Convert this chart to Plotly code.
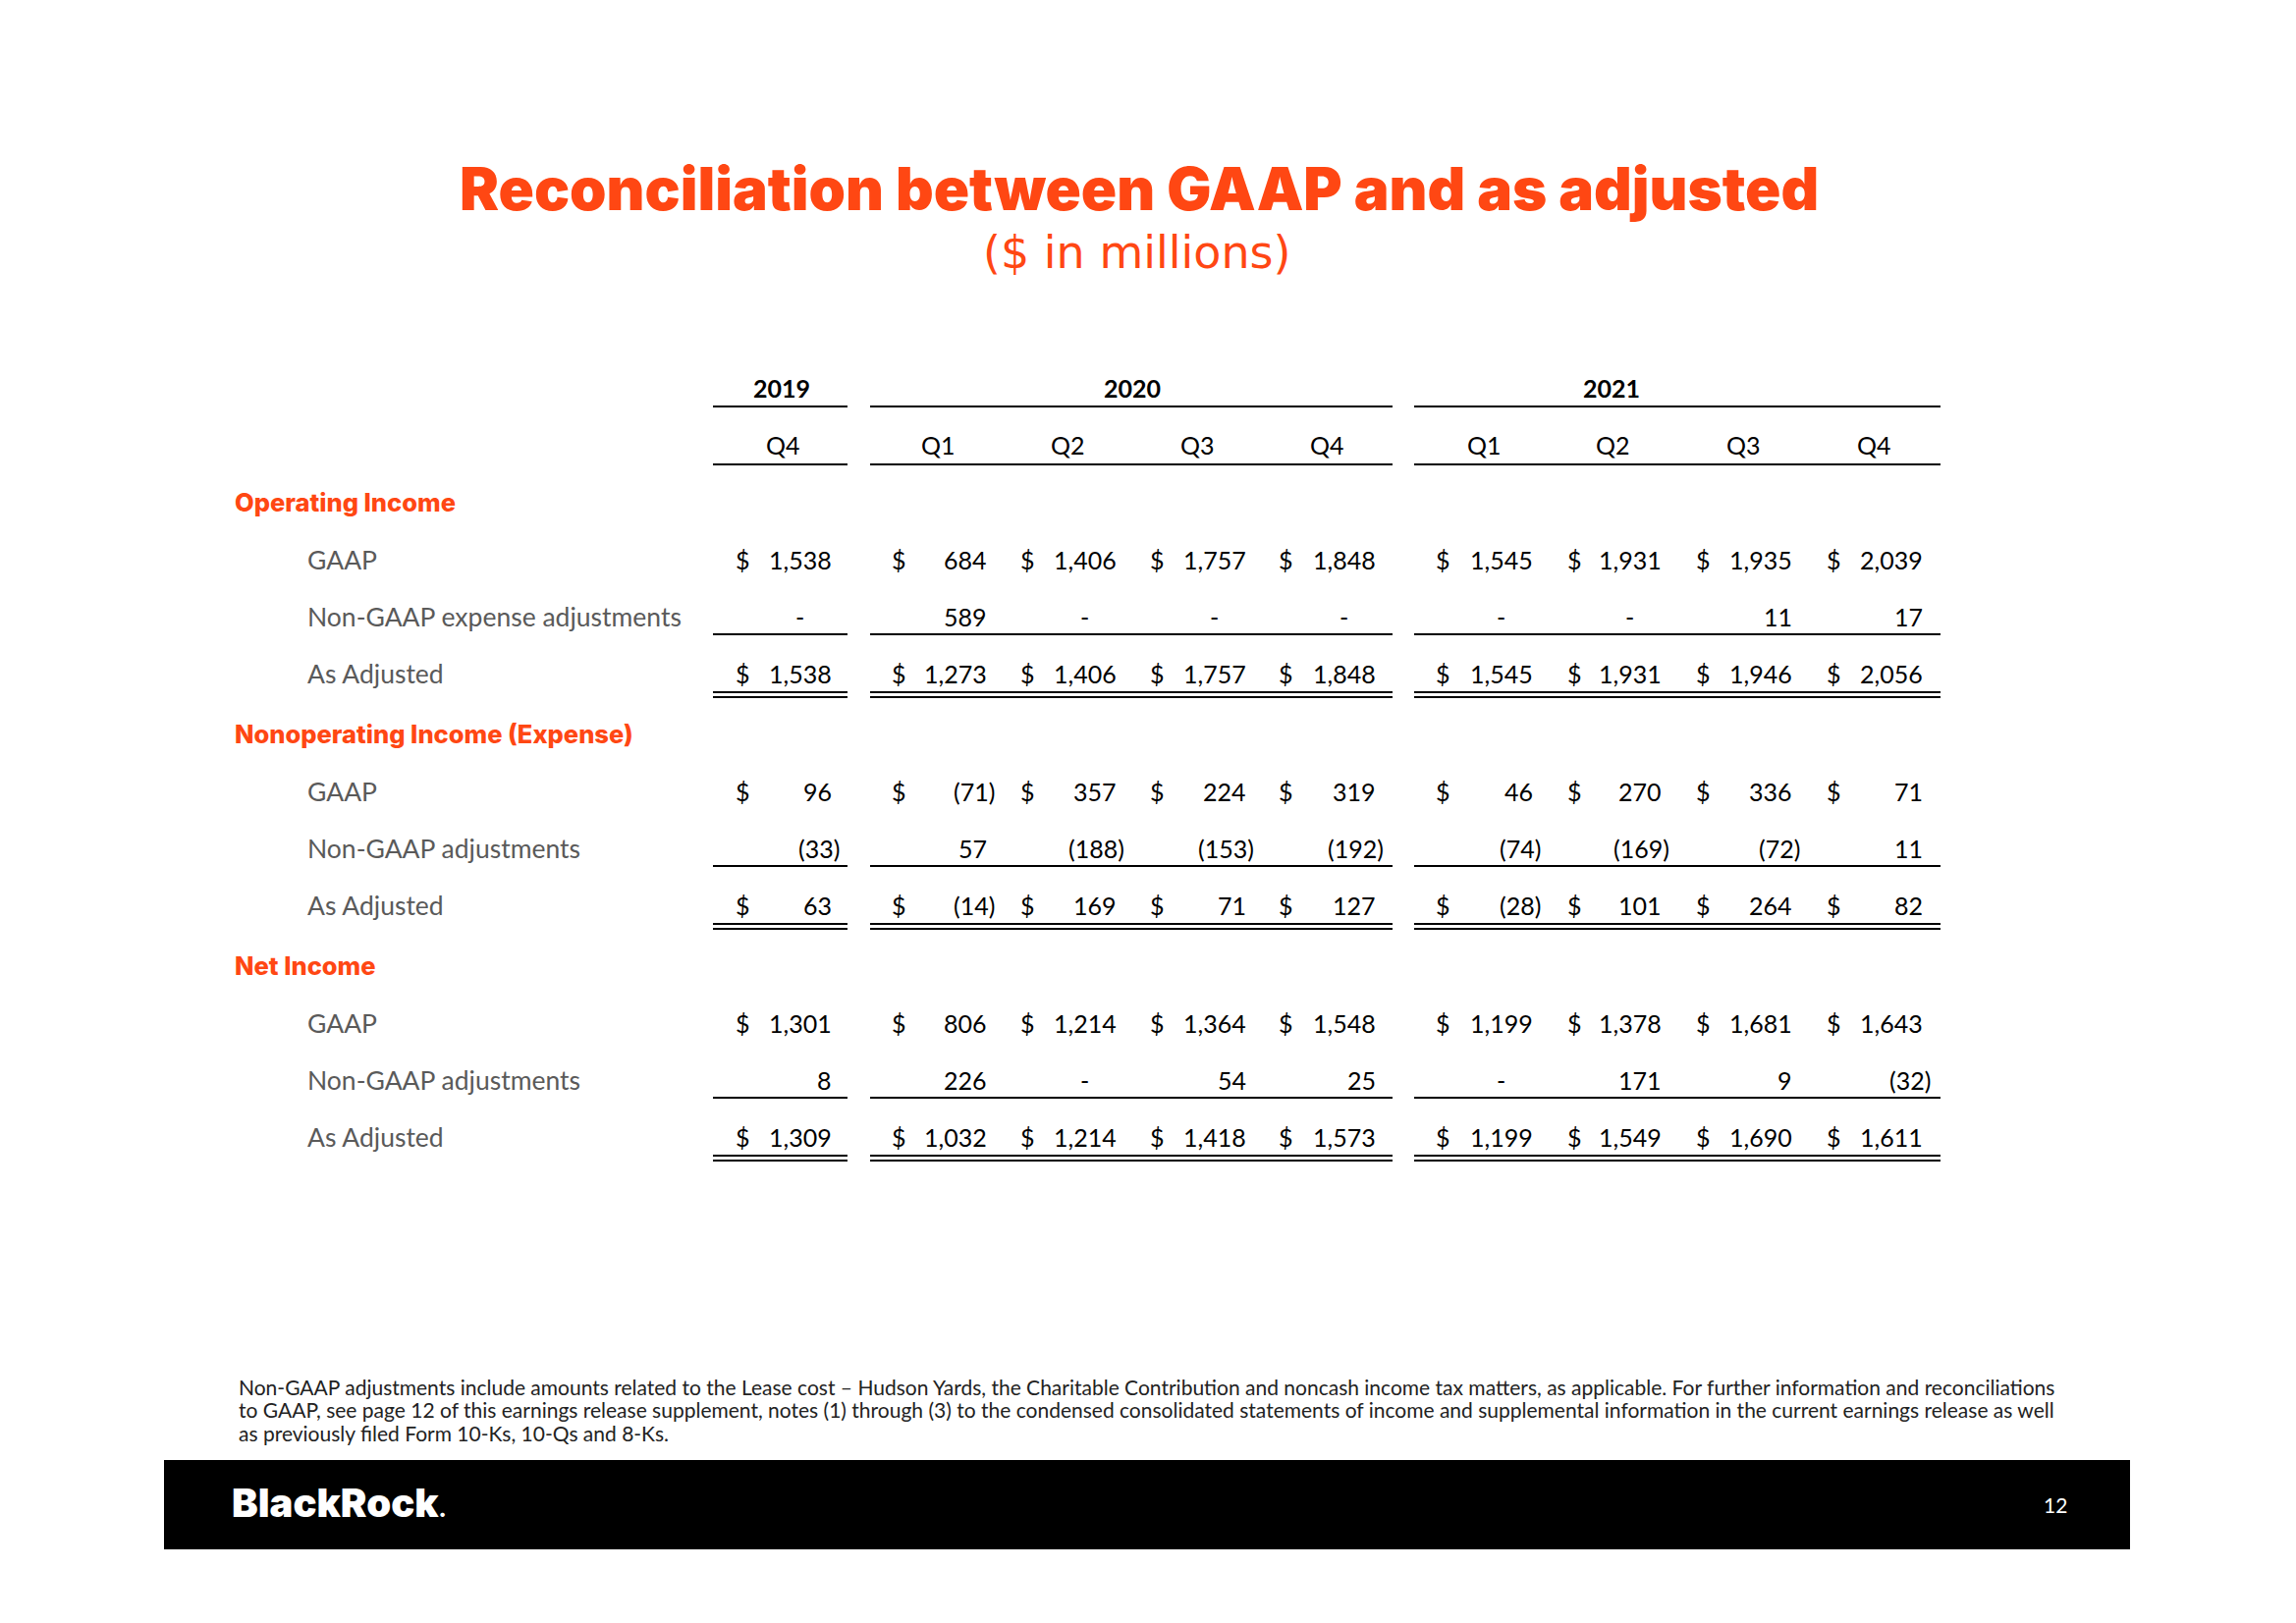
import plotly.graph_objects as go

# ---- data ----
years = ['2019', '2020', '2021']
quarters = ['Q4', 'Q1', 'Q2', 'Q3', 'Q4', 'Q1', 'Q2', 'Q3', 'Q4']

sections = ['Operating Income', 'Nonoperating Income (Expense)', 'Net Income']
op_labels = ['GAAP', 'Non-GAAP expense adjustments', 'As Adjusted']
nonop_labels = ['GAAP', 'Non-GAAP adjustments', 'As Adjusted']
net_labels = ['GAAP', 'Non-GAAP adjustments', 'As Adjusted']

op_gaap = [1538, 684, 1406, 1757, 1848, 1545, 1931, 1935, 2039]
op_adj = [0, 589, 0, 0, 0, 0, 0, 11, 17]
op_as_adj = [1538, 1273, 1406, 1757, 1848, 1545, 1931, 1946, 2056]

nonop_gaap = [96, -71, 357, 224, 319, 46, 270, 336, 71]
nonop_adj = [-33, 57, -188, -153, -192, -74, -169, -72, 11]
nonop_as_adj = [63, -14, 169, 71, 127, -28, 101, 264, 82]

net_gaap = [1301, 806, 1214, 1364, 1548, 1199, 1378, 1681, 1643]
net_adj = [8, 226, 0, 54, 25, 0, 171, 9, -32]
net_as_adj = [1309, 1032, 1214, 1418, 1573, 1199, 1549, 1690, 1611]

title = 'Reconciliation between GAAP and as adjusted'
subtitle = '($ in millions)'
footnote = [
    'Non-GAAP adjustments include amounts related to the Lease cost \u2013 Hudson Yards, the Charitable Contribution '
    'and noncash income tax matters, as applicable. For further information and reconciliations',
    'to GAAP, see page 12 of this earnings release supplement, notes (1) through (3) to the condensed consolidated '
    'statements of income and supplemental information in the current earnings release as well',
    'as previously filed Form 10-Ks, 10-Qs and 8-Ks.',
]

# ---- layout settings ----
W, H = 2338, 1653
PAD = 8  # default page margin of the html body
ORANGE = '#FF4713'
FONT = 'Lato'
WIDE = 'Inter'
GREY = '#5a5a5a'

dollar_x = [747, 906, 1037, 1169, 1300, 1460, 1594, 1725, 1858]
right_x = [849, 1007, 1139, 1271, 1403, 1563, 1694, 1827, 1960]
year_x = [796, 1153, 1641]
year_span = [(726, 863), (886, 1418), (1440, 1976)]
section_y = [511, 747, 983]
row_dy = [59, 117, 175]


def fmt(v):
    if v == 0:
        return '-'
    if v < 0:
        return f'({abs(v):,})'
    return f'{v:,}'


def txt(x, y, text, size=25, color='black', anchor='center', weight=400, family=FONT):
    return dict(x=x, y=y, xref='x', yref='y', text=text, showarrow=False,
                xanchor=anchor, yanchor='middle',
                font=dict(family=family, size=size, color=color, weight=weight))


fig = go.Figure()
fig.add_trace(go.Scatter(x=[PAD, W - PAD], y=[PAD, H - PAD], mode='markers',
                         marker=dict(opacity=0), hoverinfo='skip', showlegend=False))

annotations = []
shapes = []

# title
annotations.append(txt(1160, 192, title, size=60, color=ORANGE, weight=900, family=WIDE))
annotations.append(txt(1158, 257, subtitle, size=46, color=ORANGE, family='DejaVu Sans'))

# header
for i, yr in enumerate(years):
    annotations.append(txt(year_x[i], 395, yr, size=25, weight=700))
    x0, x1 = year_span[i]
    shapes.append(dict(type='line', x0=x0, x1=x1, y0=414, y1=414, line=dict(color='black', width=2)))
    shapes.append(dict(type='line', x0=x0, x1=x1, y0=473, y1=473, line=dict(color='black', width=2)))
for j, q in enumerate(quarters):
    annotations.append(txt(right_x[j] - 52, 453, q, size=25))

# body
blocks = [
    (op_labels, [op_gaap, op_adj, op_as_adj]),
    (nonop_labels, [nonop_gaap, nonop_adj, nonop_as_adj]),
    (net_labels, [net_gaap, net_adj, net_as_adj]),
]
for s, (labels, rows) in enumerate(blocks):
    y0 = section_y[s]
    annotations.append(txt(237, y0, sections[s], size=25.5, color=ORANGE, anchor='left',
                           weight=800, family=WIDE))
    for r, (lab, vals) in enumerate(zip(labels, rows)):
        y = y0 + row_dy[r]
        annotations.append(txt(311, y, lab, size=26.5, color=GREY, anchor='left'))
        for j, v in enumerate(vals):
            if r != 1:
                annotations.append(txt(dollar_x[j], y, '$', size=25, anchor='left'))
            if v == 0:
                annotations.append(txt(right_x[j] - 35, y, '-', size=25))
            elif v < 0:
                annotations.append(txt(right_x[j] + 8, y, fmt(v), size=25, anchor='right'))
            else:
                annotations.append(txt(right_x[j], y, fmt(v), size=25, anchor='right'))
    for x0, x1 in year_span:
        shapes.append(dict(type='line', x0=x0, x1=x1, y0=y0 + 135, y1=y0 + 135,
                           line=dict(color='black', width=2)))
        for dy in (194, 199):
            shapes.append(dict(type='line', x0=x0, x1=x1, y0=y0 + dy, y1=y0 + dy,
                               line=dict(color='black', width=2)))

# footnote
for k, line in enumerate(footnote):
    annotations.append(txt(241, 1412 + k * 23.5, line, size=21, color='#222222', anchor='left'))

# footer band
shapes.append(dict(type='rect', x0=167, x1=2169, y0=1487, y1=1578,
                   fillcolor='black', line=dict(width=0), layer='below'))
annotations.append(txt(234, 1530, 'BlackRock<span style="font-size:22px">.</span>', size=40,
                       color='white', anchor='left', weight=900, family=WIDE))
annotations.append(txt(2093, 1532, '12', size=21, color='white'))

fig.update_layout(
    width=W - 2 * PAD,
    height=H - 2 * PAD,
    autosize=False,
    margin=dict(l=0, r=0, t=0, b=0),
    paper_bgcolor='white',
    plot_bgcolor='white',
    xaxis=dict(range=[PAD, W - PAD], visible=False, fixedrange=True),
    yaxis=dict(range=[H - PAD, PAD], visible=False, fixedrange=True),
    showlegend=False,
    annotations=annotations,
    shapes=shapes,
)

fig.write_html('out.html')
